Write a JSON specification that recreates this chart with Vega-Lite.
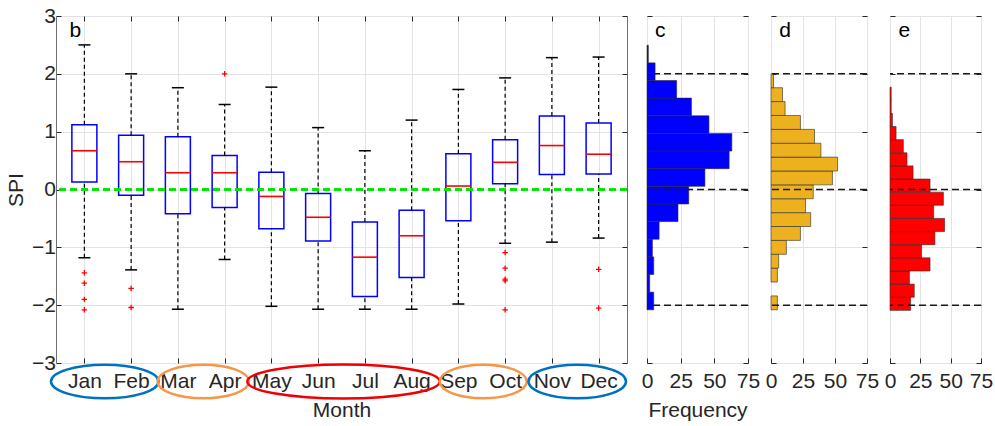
{
  "$schema": "https://vega.github.io/schema/vega-lite/v6.json",
  "background": "white",
  "padding": {"left": 5, "top": 4, "right": 0, "bottom": 0},
  "spacing": 20,
  "bounds": "flush",
  "datasets": {
    "spi_boxes": [
      {"month": 1, "name": "Jan", "band": "Jan–Feb", "lo": -1.18, "q1": 0.13, "med": 0.67, "q3": 1.12, "hi": 2.50},
      {"month": 2, "name": "Feb", "band": "Jan–Feb", "lo": -1.39, "q1": -0.10, "med": 0.48, "q3": 0.94, "hi": 2.00},
      {"month": 3, "name": "Mar", "band": "Mar–Apr", "lo": -2.07, "q1": -0.42, "med": 0.29, "q3": 0.91, "hi": 1.76},
      {"month": 4, "name": "Apr", "band": "Mar–Apr", "lo": -1.21, "q1": -0.31, "med": 0.29, "q3": 0.59, "hi": 1.47},
      {"month": 5, "name": "May", "band": "May–Aug", "lo": -2.02, "q1": -0.68, "med": -0.12, "q3": 0.30, "hi": 1.77},
      {"month": 6, "name": "Jun", "band": "May–Aug", "lo": -2.07, "q1": -0.89, "med": -0.48, "q3": -0.07, "hi": 1.07},
      {"month": 7, "name": "Jul", "band": "May–Aug", "lo": -2.07, "q1": -1.85, "med": -1.17, "q3": -0.56, "hi": 0.67},
      {"month": 8, "name": "Aug", "band": "May–Aug", "lo": -2.07, "q1": -1.52, "med": -0.80, "q3": -0.36, "hi": 1.20},
      {"month": 9, "name": "Sep", "band": "Sep–Oct", "lo": -1.98, "q1": -0.54, "med": 0.06, "q3": 0.62, "hi": 1.73},
      {"month": 10, "name": "Oct", "band": "Sep–Oct", "lo": -0.93, "q1": 0.10, "med": 0.47, "q3": 0.86, "hi": 1.93},
      {"month": 11, "name": "Nov", "band": "Nov–Dec", "lo": -0.91, "q1": 0.26, "med": 0.76, "q3": 1.27, "hi": 2.28},
      {"month": 12, "name": "Dec", "band": "Nov–Dec", "lo": -0.84, "q1": 0.27, "med": 0.61, "q3": 1.15, "hi": 2.29}
    ],
    "spi_outliers": [
      {"month": 1, "spi": -1.44}, {"month": 1, "spi": -1.62}, {"month": 1, "spi": -1.90}, {"month": 1, "spi": -2.08},
      {"month": 2, "spi": -1.71}, {"month": 2, "spi": -2.04},
      {"month": 4, "spi": 2.00},
      {"month": 10, "spi": -1.09}, {"month": 10, "spi": -1.36}, {"month": 10, "spi": -1.55}, {"month": 10, "spi": -1.58}, {"month": 10, "spi": -2.08},
      {"month": 12, "spi": -1.38}, {"month": 12, "spi": -2.05}
    ],
    "spi_hist": [
      {"panel": "c", "lo": -2.080, "hi": -1.775, "n": 5},
      {"panel": "c", "lo": -1.775, "hi": -1.470, "n": 2},
      {"panel": "c", "lo": -1.470, "hi": -1.165, "n": 5},
      {"panel": "c", "lo": -1.165, "hi": -0.860, "n": 4},
      {"panel": "c", "lo": -0.860, "hi": -0.555, "n": 9},
      {"panel": "c", "lo": -0.555, "hi": -0.250, "n": 23},
      {"panel": "c", "lo": -0.250, "hi": 0.055, "n": 31},
      {"panel": "c", "lo": 0.055, "hi": 0.360, "n": 43},
      {"panel": "c", "lo": 0.360, "hi": 0.665, "n": 61},
      {"panel": "c", "lo": 0.665, "hi": 0.970, "n": 63},
      {"panel": "c", "lo": 0.970, "hi": 1.275, "n": 46},
      {"panel": "c", "lo": 1.275, "hi": 1.580, "n": 33},
      {"panel": "c", "lo": 1.580, "hi": 1.885, "n": 22},
      {"panel": "c", "lo": 1.885, "hi": 2.190, "n": 6},
      {"panel": "c", "lo": 2.190, "hi": 2.495, "n": 1},
      {"panel": "d", "lo": -2.08, "hi": -1.84, "n": 5},
      {"panel": "d", "lo": -1.60, "hi": -1.36, "n": 5},
      {"panel": "d", "lo": -1.36, "hi": -1.12, "n": 6},
      {"panel": "d", "lo": -1.12, "hi": -0.88, "n": 12},
      {"panel": "d", "lo": -0.88, "hi": -0.64, "n": 23},
      {"panel": "d", "lo": -0.64, "hi": -0.40, "n": 31},
      {"panel": "d", "lo": -0.40, "hi": -0.16, "n": 27},
      {"panel": "d", "lo": -0.16, "hi": 0.08, "n": 33},
      {"panel": "d", "lo": 0.08, "hi": 0.32, "n": 48},
      {"panel": "d", "lo": 0.32, "hi": 0.56, "n": 52},
      {"panel": "d", "lo": 0.56, "hi": 0.80, "n": 39},
      {"panel": "d", "lo": 0.80, "hi": 1.04, "n": 34},
      {"panel": "d", "lo": 1.04, "hi": 1.28, "n": 23},
      {"panel": "d", "lo": 1.28, "hi": 1.52, "n": 11},
      {"panel": "d", "lo": 1.52, "hi": 1.76, "n": 9},
      {"panel": "d", "lo": 1.76, "hi": 2.00, "n": 2},
      {"panel": "e", "lo": -2.090, "hi": -1.863, "n": 17},
      {"panel": "e", "lo": -1.863, "hi": -1.636, "n": 20},
      {"panel": "e", "lo": -1.636, "hi": -1.409, "n": 16},
      {"panel": "e", "lo": -1.409, "hi": -1.182, "n": 33},
      {"panel": "e", "lo": -1.182, "hi": -0.955, "n": 26},
      {"panel": "e", "lo": -0.955, "hi": -0.727, "n": 37},
      {"panel": "e", "lo": -0.727, "hi": -0.500, "n": 45},
      {"panel": "e", "lo": -0.500, "hi": -0.273, "n": 36},
      {"panel": "e", "lo": -0.273, "hi": -0.046, "n": 44},
      {"panel": "e", "lo": -0.046, "hi": 0.181, "n": 33},
      {"panel": "e", "lo": 0.181, "hi": 0.408, "n": 19},
      {"panel": "e", "lo": 0.408, "hi": 0.635, "n": 14},
      {"panel": "e", "lo": 0.635, "hi": 0.862, "n": 11},
      {"panel": "e", "lo": 0.862, "hi": 1.089, "n": 5},
      {"panel": "e", "lo": 1.089, "hi": 1.316, "n": 2},
      {"panel": "e", "lo": 1.316, "hi": 1.543, "n": 1},
      {"panel": "e", "lo": 1.543, "hi": 1.770, "n": 1}
    ],
    "thresholds": [{"spi": -2}, {"spi": 0}, {"spi": 2}]
  },
  "hconcat": [
    {
      "width": 571,
      "height": 347,
      "data": {"name": "spi_boxes"},
      "resolve": {"axis": {"x": "independent", "y": "independent"}},
      "layer": [
        {
          "mark": {"type": "bar", "size": 25, "fill": "transparent", "stroke": "#0000ff", "strokeWidth": 1.5},
          "encoding": {
            "x": {"field": "month", "type": "quantitative",
                  "scale": {"domain": [0.5, 12.5], "nice": false, "zero": false},
                  "axis": {"values": [1,2,3,4,5,6,7,8,9,10,11,12], "grid": true, "tickSize": -5, "labelPadding": 12.5,
                           "labelExpr": "['','Jan','Feb','Mar','Apr','May','Jun','Jul','Aug','Sep','Oct','Nov','Dec'][datum.value]",
                           "title": "Month", "titlePadding": 8}},
            "y": {"field": "q1", "type": "quantitative",
                  "scale": {"domain": [-3, 3], "nice": false, "zero": false},
                  "axis": {"values": [-3,-2,-1,0,1,2,3], "grid": true, "tickSize": -5, "labelPadding": 5.5, "format": "d",
                           "title": "SPI", "titlePadding": 5}},
            "y2": {"field": "q3"}
          }
        },
        {
          "mark": {"type": "rule", "color": "#000000", "strokeWidth": 1.2, "strokeDash": [4, 3]},
          "encoding": {
            "x": {"field": "month", "type": "quantitative", "axis": null},
            "y": {"field": "lo", "type": "quantitative", "axis": null},
            "y2": {"field": "q1"}
          }
        },
        {
          "mark": {"type": "rule", "color": "#000000", "strokeWidth": 1.2, "strokeDash": [4, 3]},
          "encoding": {
            "x": {"field": "month", "type": "quantitative", "axis": null},
            "y": {"field": "q3", "type": "quantitative", "axis": null},
            "y2": {"field": "hi"}
          }
        },
        {
          "mark": {"type": "tick", "orient": "horizontal", "size": 12, "thickness": 1.5, "color": "#000000", "opacity": 1},
          "encoding": {
            "x": {"field": "month", "type": "quantitative", "axis": null},
            "y": {"field": "lo", "type": "quantitative", "axis": null}
          }
        },
        {
          "mark": {"type": "tick", "orient": "horizontal", "size": 12, "thickness": 1.5, "color": "#000000", "opacity": 1},
          "encoding": {
            "x": {"field": "month", "type": "quantitative", "axis": null},
            "y": {"field": "hi", "type": "quantitative", "axis": null}
          }
        },
        {
          "mark": {"type": "tick", "orient": "horizontal", "size": 25, "thickness": 1.6, "color": "#ff0000", "opacity": 1},
          "encoding": {
            "x": {"field": "month", "type": "quantitative",
                  "axis": {"orient": "top", "values": [1,2,3,4,5,6,7,8,9,10,11,12], "grid": false, "labels": false, "tickSize": -5, "title": null}},
            "y": {"field": "med", "type": "quantitative", "axis": null}
          }
        },
        {
          "data": {"name": "spi_outliers"},
          "mark": {"type": "point", "shape": "M-1,0H1M0,-1V1", "size": 30, "filled": false, "stroke": "#ff0000", "strokeWidth": 1.3, "opacity": 1},
          "encoding": {
            "x": {"field": "month", "type": "quantitative", "axis": null},
            "y": {"field": "spi", "type": "quantitative",
                  "axis": {"orient": "right", "values": [-3,-2,-1,0,1,2,3], "grid": false, "labels": false, "tickSize": -5, "title": null}}
          }
        },
        {
          "mark": {"type": "rule", "color": "#00e600", "strokeWidth": 1.5, "strokeDash": [7, 4]},
          "encoding": {
            "y": {"datum": 0, "type": "quantitative", "axis": null}
          }
        },
        {
          "transform": [{"filter": "datum.band == 'Jan–Feb'"}],
          "mark": {"type": "point", "shape": "M-1,0C-1,-0.172,-0.552,-0.312,0,-0.312C0.552,-0.312,1,-0.172,1,0C1,0.172,0.552,0.312,0,0.312C-0.552,0.312,-1,0.172,-1,0Z",
                   "size": 11556, "filled": false, "stroke": "#0070c0", "strokeWidth": 2.5, "opacity": 1, "xOffset": -3},
          "encoding": {
            "x": {"aggregate": "mean", "field": "month", "type": "quantitative", "axis": null},
            "y": {"datum": -3.32, "type": "quantitative", "axis": null}
          }
        },
        {
          "transform": [{"filter": "datum.band == 'Mar–Apr'"}],
          "mark": {"type": "point", "shape": "M-1,0C-1,-0.202,-0.552,-0.366,0,-0.366C0.552,-0.366,1,-0.202,1,0C1,0.202,0.552,0.366,0,0.366C-0.552,0.366,-1,0.202,-1,0Z",
                   "size": 8372, "filled": false, "stroke": "#f79646", "strokeWidth": 2.5, "opacity": 1, "xOffset": 2},
          "encoding": {
            "x": {"aggregate": "mean", "field": "month", "type": "quantitative", "axis": null},
            "y": {"datum": -3.32, "type": "quantitative", "axis": null}
          }
        },
        {
          "transform": [{"filter": "datum.band == 'May–Aug'"}],
          "mark": {"type": "point", "shape": "M-1,0C-1,-0.098,-0.552,-0.177,0,-0.177C0.552,-0.177,1,-0.098,1,0C1,0.098,0.552,0.177,0,0.177C-0.552,0.177,-1,0.098,-1,0Z",
                   "size": 37056, "filled": false, "stroke": "#f00000", "strokeWidth": 2.5, "opacity": 1, "xOffset": 2},
          "encoding": {
            "x": {"aggregate": "mean", "field": "month", "type": "quantitative", "axis": null},
            "y": {"datum": -3.32, "type": "quantitative", "axis": null}
          }
        },
        {
          "transform": [{"filter": "datum.band == 'Sep–Oct'"}],
          "mark": {"type": "point", "shape": "M-1,0C-1,-0.213,-0.552,-0.385,0,-0.385C0.552,-0.385,1,-0.213,1,0C1,0.213,0.552,0.385,0,0.385C-0.552,0.385,-1,0.213,-1,0Z",
                   "size": 7569, "filled": false, "stroke": "#f79646", "strokeWidth": 2.5, "opacity": 1, "xOffset": 1.5},
          "encoding": {
            "x": {"aggregate": "mean", "field": "month", "type": "quantitative", "axis": null},
            "y": {"datum": -3.32, "type": "quantitative", "axis": null}
          }
        },
        {
          "transform": [{"filter": "datum.band == 'Nov–Dec'"}],
          "mark": {"type": "point", "shape": "M-1,0C-1,-0.190,-0.552,-0.344,0,-0.344C0.552,-0.344,1,-0.190,1,0C1,0.190,0.552,0.344,0,0.344C-0.552,0.344,-1,0.190,-1,0Z",
                   "size": 9506, "filled": false, "stroke": "#0070c0", "strokeWidth": 2.5, "opacity": 1, "xOffset": 2},
          "encoding": {
            "x": {"aggregate": "mean", "field": "month", "type": "quantitative", "axis": null},
            "y": {"datum": -3.32, "type": "quantitative", "axis": null}
          }
        },
        {
          "data": {"values": [{"tag": "b"}]},
          "mark": {"type": "text", "align": "left", "baseline": "alphabetic", "fontSize": 21, "font": "Liberation Sans", "color": "#000000"},
          "encoding": {
            "text": {"field": "tag"},
            "x": {"datum": 0.68, "type": "quantitative", "axis": null},
            "y": {"datum": 2.64, "type": "quantitative", "axis": null}
          }
        }
      ]
    },
    {
      "spacing": 23,
      "bounds": "flush",
      "hconcat": [
        {
          "width": 101,
          "height": 347,
          "resolve": {"axis": {"x": "independent", "y": "independent"}},
          "layer": [
            {
              "data": {"name": "spi_hist"},
              "transform": [{"filter": "datum.panel == 'c'"}],
              "mark": {"type": "rect", "fill": "#0000ff", "stroke": "#2b2b2b", "strokeWidth": 0.6},
              "encoding": {
                "x": {"field": "n", "type": "quantitative", "scale": {"domain": [0, 75], "nice": false},
                      "axis": {"values": [0, 25, 50, 75], "grid": true, "tickSize": -5, "labelPadding": 12.5, "title": "Frequency", "titlePadding": 8}},
                "x2": {"datum": 0},
                "y": {"field": "lo", "type": "quantitative", "scale": {"domain": [-3, 3], "nice": false, "zero": false},
                      "axis": {"values": [-3,-2,-1,0,1,2,3], "grid": true, "labels": false, "tickSize": -5, "title": null}},
                "y2": {"field": "hi"}
              }
            },
            {
              "data": {"name": "thresholds"},
              "mark": {"type": "rule", "color": "#1a1a1a", "strokeWidth": 1.5, "strokeDash": [7, 4]},
              "encoding": {
                "y": {"field": "spi", "type": "quantitative",
                      "axis": {"orient": "right", "values": [-3,-2,-1,0,1,2,3], "grid": false, "labels": false, "tickSize": -5, "title": null}}
              }
            },
            {
              "data": {"values": [{"tag": "c"}]},
              "mark": {"type": "text", "align": "left", "baseline": "alphabetic", "fontSize": 21, "font": "Liberation Sans", "color": "#000000"},
              "encoding": {
                "text": {"field": "tag"},
                "x": {"datum": 6, "type": "quantitative", "axis": null},
                "y": {"datum": 2.63, "type": "quantitative", "axis": null}
              }
            }
          ]
        },
        {
          "width": 96,
          "height": 347,
          "resolve": {"axis": {"x": "independent", "y": "independent"}},
          "layer": [
            {
              "data": {"name": "spi_hist"},
              "transform": [{"filter": "datum.panel == 'd'"}],
              "mark": {"type": "rect", "fill": "#edb120", "stroke": "#2b2b2b", "strokeWidth": 0.6},
              "encoding": {
                "x": {"field": "n", "type": "quantitative", "scale": {"domain": [0, 75], "nice": false},
                      "axis": {"values": [0, 25, 50, 75], "grid": true, "tickSize": -5, "labelPadding": 12.5, "title": null}},
                "x2": {"datum": 0},
                "y": {"field": "lo", "type": "quantitative", "scale": {"domain": [-3, 3], "nice": false, "zero": false},
                      "axis": {"values": [-3,-2,-1,0,1,2,3], "grid": true, "labels": false, "tickSize": -5, "title": null}},
                "y2": {"field": "hi"}
              }
            },
            {
              "data": {"name": "thresholds"},
              "mark": {"type": "rule", "color": "#1a1a1a", "strokeWidth": 1.5, "strokeDash": [7, 4]},
              "encoding": {
                "y": {"field": "spi", "type": "quantitative",
                      "axis": {"orient": "right", "values": [-3,-2,-1,0,1,2,3], "grid": false, "labels": false, "tickSize": -5, "title": null}}
              }
            },
            {
              "data": {"values": [{"tag": "d"}]},
              "mark": {"type": "text", "align": "left", "baseline": "alphabetic", "fontSize": 21, "font": "Liberation Sans", "color": "#000000"},
              "encoding": {
                "text": {"field": "tag"},
                "x": {"datum": 6.5, "type": "quantitative", "axis": null},
                "y": {"datum": 2.63, "type": "quantitative", "axis": null}
              }
            }
          ]
        },
        {
          "width": 91,
          "height": 347,
          "resolve": {"axis": {"x": "independent", "y": "independent"}},
          "layer": [
            {
              "data": {"name": "spi_hist"},
              "transform": [{"filter": "datum.panel == 'e'"}],
              "mark": {"type": "rect", "fill": "#ff0000", "stroke": "#2b2b2b", "strokeWidth": 0.6},
              "encoding": {
                "x": {"field": "n", "type": "quantitative", "scale": {"domain": [0, 75], "nice": false},
                      "axis": {"values": [0, 25, 50, 75], "grid": true, "tickSize": -5, "labelPadding": 12.5, "title": null}},
                "x2": {"datum": 0},
                "y": {"field": "lo", "type": "quantitative", "scale": {"domain": [-3, 3], "nice": false, "zero": false},
                      "axis": {"values": [-3,-2,-1,0,1,2,3], "grid": true, "labels": false, "tickSize": -5, "title": null}},
                "y2": {"field": "hi"}
              }
            },
            {
              "data": {"name": "thresholds"},
              "mark": {"type": "rule", "color": "#1a1a1a", "strokeWidth": 1.5, "strokeDash": [7, 4]},
              "encoding": {
                "y": {"field": "spi", "type": "quantitative",
                      "axis": {"orient": "right", "values": [-3,-2,-1,0,1,2,3], "grid": false, "labels": false, "tickSize": -5, "title": null}}
              }
            },
            {
              "data": {"values": [{"tag": "e"}]},
              "mark": {"type": "text", "align": "left", "baseline": "alphabetic", "fontSize": 21, "font": "Liberation Sans", "color": "#000000"},
              "encoding": {
                "text": {"field": "tag"},
                "x": {"datum": 7, "type": "quantitative", "axis": null},
                "y": {"datum": 2.63, "type": "quantitative", "axis": null}
              }
            }
          ]
        }
      ]
    }
  ],
  "config": {
    "font": "Liberation Sans",
    "view": {"stroke": "#6f6f6f", "strokeWidth": 1},
    "axis": {
      "labelFont": "Liberation Sans",
      "titleFont": "Liberation Sans",
      "labelFontSize": 21,
      "titleFontSize": 21,
      "titleFontWeight": "normal",
      "labelColor": "#262626",
      "titleColor": "#262626",
      "gridColor": "#e3e3e3",
      "gridWidth": 1,
      "domain": false,
      "tickColor": "#262626",
      "tickWidth": 1,
      "labelFlush": false,
      "labelOverlap": false,
      "labelBound": false
    }
  }
}
